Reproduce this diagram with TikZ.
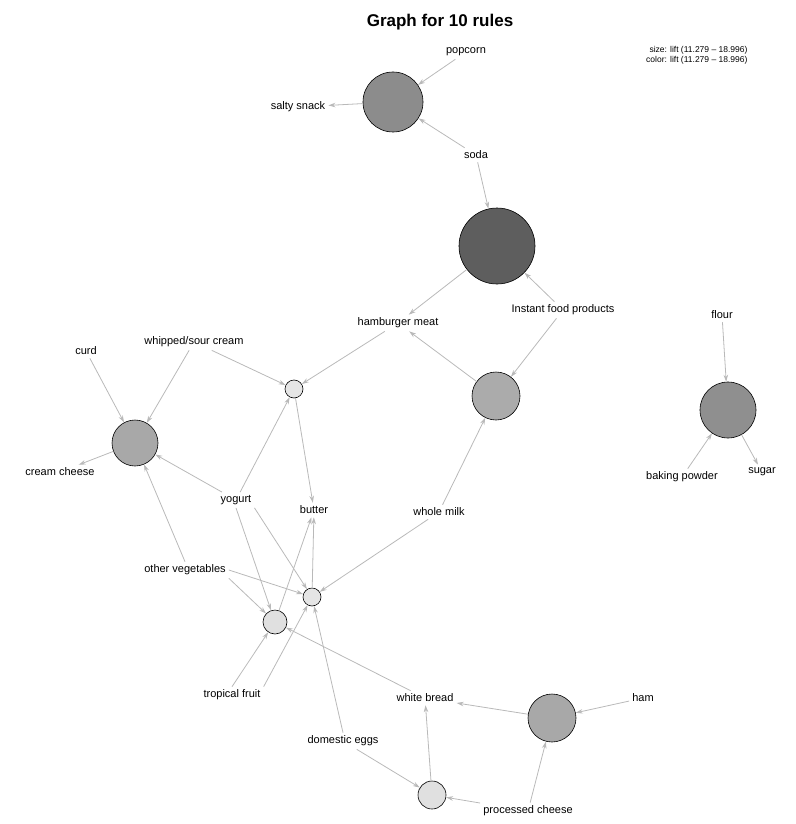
\documentclass[tikz,border=0pt]{standalone}
\usepackage{fontspec}
\setmainfont{Liberation Sans}
\usetikzlibrary{arrows.meta}
\tikzset{
  rulenode/.style={circle,draw=black,line width=0.6pt,inner sep=0pt},
  item/.style={inner sep=3pt,font=\fontsize{11}{13}\selectfont},
  edge/.style={draw=gray!55,line width=0.8pt,-{Stealth[length=7pt,width=4.5pt]}}
}
\begin{document}
\begin{tikzpicture}[x=1pt,y=-1pt]
\useasboundingbox (0,0) rectangle (795,824);
% title and legend
\node[font=\bfseries\fontsize{17}{19}\selectfont] at (440,22) {Graph for 10 rules};
\node[anchor=east,font=\fontsize{8.5}{10}\selectfont,align=right] at (751,55) {size: lift (11.279 -- 18.996)\\color: lift (11.279 -- 18.996)};

% rules
\node[rulenode,fill=black!45,minimum size=60pt] (r1) at (393,102) {};
\node[rulenode,fill=black!63,minimum size=76pt] (r2) at (497,246) {};
\node[rulenode,fill=black!10,minimum size=18pt] (r3) at (294,389) {};
\node[rulenode,fill=black!33,minimum size=48pt] (r4) at (496,396) {};
\node[rulenode,fill=black!44,minimum size=56pt] (r5) at (728,410) {};
\node[rulenode,fill=black!34,minimum size=46pt] (r6) at (135,443) {};
\node[rulenode,fill=black!10,minimum size=18pt] (r7) at (312,597) {};
\node[rulenode,fill=black!12,minimum size=24pt] (r8) at (275,622) {};
\node[rulenode,fill=black!34,minimum size=48pt] (r9) at (552,718) {};
\node[rulenode,fill=black!12,minimum size=28pt] (r10) at (432,795) {};

% items
\node[item] (popcorn) at (466,52) {popcorn};
\node[item] (salty) at (298,107) {salty snack};
\node[item] (soda) at (476,155) {soda};
\node[item] (hamburger) at (398,323) {hamburger meat};
\node[item] (instant) at (563,310) {Instant food products};
\node[item] (flour) at (722,315) {flour};
\node[item] (curd) at (86,351) {curd};
\node[item] (whipped) at (194,342) {whipped/sour cream};
\node[item] (creamcheese) at (60,472) {cream cheese};
\node[item] (yogurt) at (236,500) {yogurt};
\node[item] (butter) at (314,510) {butter};
\node[item] (wholemilk) at (439,512) {whole milk};
\node[item] (baking) at (682,477) {baking powder};
\node[item] (sugar) at (762,472) {sugar};
\node[item] (veg) at (185,570) {other vegetables};
\node[item] (tropical) at (232,695) {tropical fruit};
\node[item] (whitebread) at (425,698) {white bread};
\node[item] (ham) at (643,698) {ham};
\node[item] (eggs) at (343,741) {domestic eggs};
\node[item] (processed) at (528,811) {processed cheese};

% connectors
\draw[edge] (popcorn) -- (r1);
\draw[edge] (soda) -- (r1);
\draw[edge] (r1) -- (salty);
\draw[edge] (soda) -- (r2);
\draw[edge] (instant) -- (r2);
\draw[edge] (r2) -- (hamburger);
\draw[edge] (hamburger) -- (r3);
\draw[edge] (whipped) -- (r3);
\draw[edge] (yogurt) -- (r3);
\draw[edge] (r3) -- (butter);
\draw[edge] (instant) -- (r4);
\draw[edge] (wholemilk) -- (r4);
\draw[edge] (r4) -- (hamburger);
\draw[edge] (flour) -- (r5);
\draw[edge] (baking) -- (r5);
\draw[edge] (r5) -- (sugar);
\draw[edge] (curd) -- (r6);
\draw[edge] (whipped) -- (r6);
\draw[edge] (yogurt) -- (r6);
\draw[edge] (veg.north) -- (r6);
\draw[edge] (r6) -- (creamcheese);
\draw[edge] (yogurt.south east) -- (r7);
\draw[edge] (veg.east) -- (r7);
\draw[edge] (wholemilk) -- (r7);
\draw[edge] (tropical.north east) -- (r7);
\draw[edge] (eggs.north) -- (r7);
\draw[edge] (r7) -- (butter);
\draw[edge] (yogurt.south) -- (r8);
\draw[edge] (veg.south east) -- (r8);
\draw[edge] (tropical.north) -- (r8);
\draw[edge] (whitebread) -- (r8);
\draw[edge] (r8) -- (butter);
\draw[edge] (ham) -- (r9);
\draw[edge] (processed) -- (r9);
\draw[edge] (r9) -- (whitebread);
\draw[edge] (eggs) -- (r10);
\draw[edge] (processed) -- (r10);
\draw[edge] (r10) -- (whitebread);
\end{tikzpicture}
\end{document}
